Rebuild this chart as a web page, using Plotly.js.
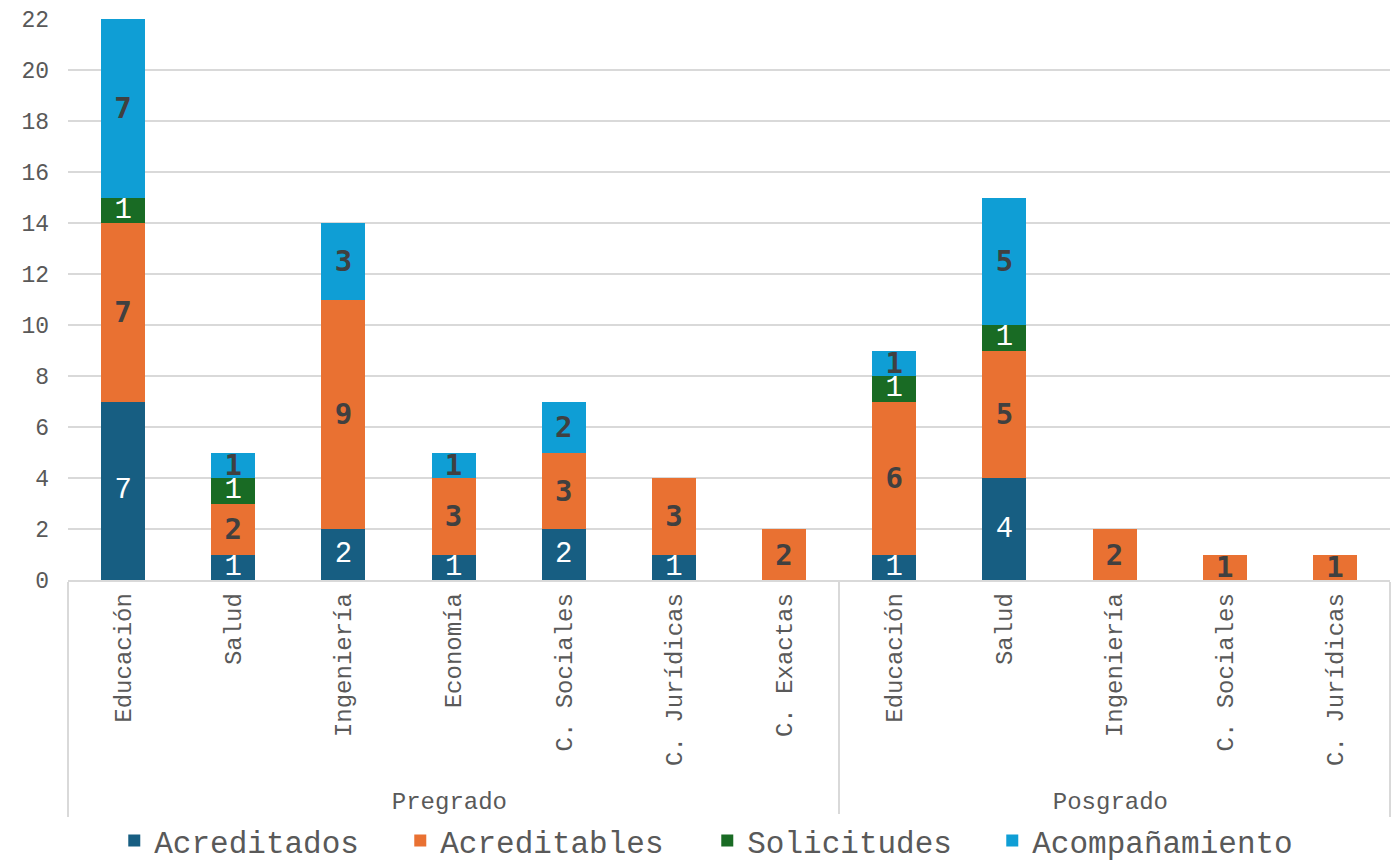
<!DOCTYPE html>
<html>
<head>
<meta charset="utf-8">
<script src="https://cdn.plot.ly/plotly-3.0.1.min.js"></script>
<style>html,body{margin:0;padding:0;background:#fff;}#chart{width:1395px;height:863px;}</style>
</head>
<body>
<div id="chart"></div>
<script>
const groups = ['Pregrado','Pregrado','Pregrado','Pregrado','Pregrado','Pregrado','Pregrado',
                'Posgrado','Posgrado','Posgrado','Posgrado','Posgrado'];
const categories = ['Educación','Salud','Ingeniería','Economía','C. Sociales','C. Jurídicas','C. Exactas',
                    'Educación','Salud','Ingeniería','C. Sociales','C. Jurídicas'];
const acreditados    = [7, 1, 2, 1, 2, 1, 0, 1, 4, 0, 0, 0];
const acreditables   = [7, 2, 9, 3, 3, 3, 2, 6, 5, 2, 1, 1];
const solicitudes    = [1, 1, 0, 0, 0, 0, 0, 1, 1, 0, 0, 0];
const acompanamiento = [7, 1, 3, 1, 2, 0, 0, 1, 5, 0, 0, 0];
const yTicks = [0, 2, 4, 6, 8, 10, 12, 14, 16, 18, 20, 22];

const lightFont = {family: 'Liberation Mono, Courier New, monospace', size: 30, color: '#ffffff'};
const darkFont  = {family: 'DejaVu Sans Mono, monospace', size: 29, color: '#404040', weight: 'bold'};

function mk(name, vals, color, font, lw) {
  return {
    type: 'bar', name: name,
    x: [groups, categories], y: vals,
    marker: {color: color},
    text: vals.map(v => v ? String(v) : ''),
    textposition: 'inside', insidetextanchor: 'middle', textangle: 0,
    constraintext: 'none',
    textfont: font,
    hoverinfo: 'skip',
    legendwidth: lw
  };
}

const data = [
  mk('Acreditados', acreditados, '#175e82', lightFont, 241),
  mk('Acreditables', acreditables, '#e97132', darkFont, 262),
  mk('Solicitudes', solicitudes, '#196b24', lightFont, 240),
  mk('Acompañamiento', acompanamiento, '#0f9ed5', darkFont, 266)
];

const axisFont = {family: 'Liberation Mono, Courier New, monospace', size: 23, color: '#595959'};
const catFont = {family: 'Liberation Mono, Courier New, monospace', size: 24, color: '#595959'};

const layout = {
  width: 1395, height: 863,
  margin: {l: 68, r: 5, t: 19, b: 283},
  barmode: 'stack', bargap: 0.6,
  paper_bgcolor: '#ffffff', plot_bgcolor: '#ffffff',
  uniformtext: {mode: 'show', minsize: 29},
  showlegend: true,
  legend: {
    orientation: 'h', xref: 'paper', x: 0.035, xanchor: 'left',
    yref: 'container', y: 0.057, yanchor: 'top',
    font: {family: 'Liberation Mono, Courier New, monospace', size: 31, color: '#595959'},
    traceorder: 'normal'
  },
  xaxis: {
    type: 'multicategory',
    tickfont: catFont, tickangle: -90,
    showline: true, linecolor: '#d9d9d9', linewidth: 1.5,
    showdividers: true, dividercolor: '#d9d9d9', dividerwidth: 1.5,
    showgrid: false, ticks: '', ticklabelstandoff: 2
  },
  yaxis: {
    range: [0, 22], tickvals: yTicks, ticktext: yTicks.map(String),
    tickfont: axisFont,
    showgrid: true, gridcolor: '#d9d9d9', gridwidth: 1.5,
    zeroline: false, showline: false, ticks: '', ticklabelstandoff: 18
  }
};

Plotly.newPlot('chart', data, layout, {staticPlot: true, displayModeBar: false});
</script>
</body>
</html>
